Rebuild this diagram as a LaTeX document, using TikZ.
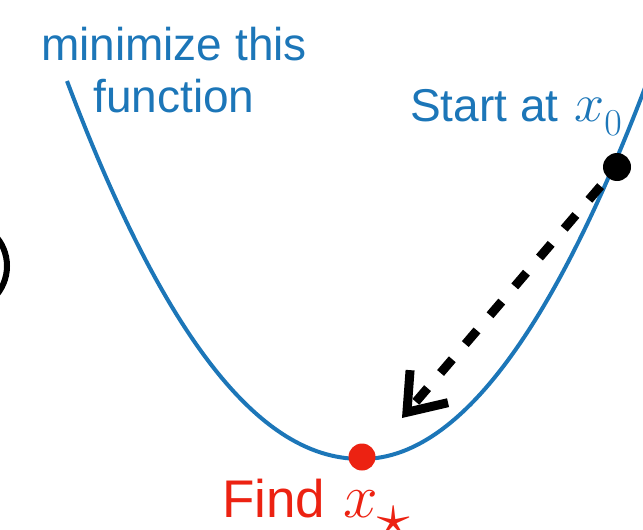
\RequirePackage{fix-cm}
\documentclass[tikz,border=0pt]{standalone}
\usepackage{fontspec}
\setmainfont{Liberation Sans}
\usepackage{amsmath,amssymb}
\usetikzlibrary{arrows.meta}
\definecolor{fnblue}{RGB}{28,118,184}
\definecolor{fnred}{RGB}{236,34,18}
\begin{document}
\begin{tikzpicture}[x=1pt, y=-1pt, every node/.style={font=\fontsize{46}{52}\selectfont, inner sep=0pt}]
 \useasboundingbox (0,0) rectangle (643,530);
 \clip (0,0) rectangle (643,530);
 \draw[line width=6pt] (-38,266) circle (45pt);
 % the function, u = distance from the minimum / 100
 \draw[fnblue, line width=4pt] plot[domain=2.95:0.01, samples=60, variable=\u] ({362-100*\u}, {459-40.27*\u^2.07})
   -- plot[domain=0.01:2.9, samples=60, variable=\u] ({362+100*\u}, {459-46.35*\u*\u});
 \node[text=fnblue, align=center, anchor=base] (goal) at (174,112) {minimize this\\function};
 \node[text=fnblue, anchor=base west] (startlabel) at (410,121)
   {Start at\hspace{3pt} {\fontsize{54}{60}\selectfont$x$}\raisebox{-14pt}{\fontsize{38}{40}\selectfont$0$}};
 \node[text=fnred, anchor=base west, font=\fontsize{53}{58}\selectfont] (findlabel) at (222,517)
   {Find\hspace{3pt} {\fontsize{62}{66}\selectfont$x$}\raisebox{-20pt}{\fontsize{66}{66}\selectfont$\star$}};
 \node[circle, fill=black, minimum size=28pt] (start) at (617,167) {};
 \node[circle, fill=fnred, minimum size=27pt] (opt) at (362,457) {};
 \coordinate (tip) at (402,418);
 \draw[line width=9pt, dash pattern=on 18pt off 20pt, shorten <=11pt, -{Straight Barb[length=34pt,width=50pt,sharp]}] (start) -- (tip);
\end{tikzpicture}
\end{document}
